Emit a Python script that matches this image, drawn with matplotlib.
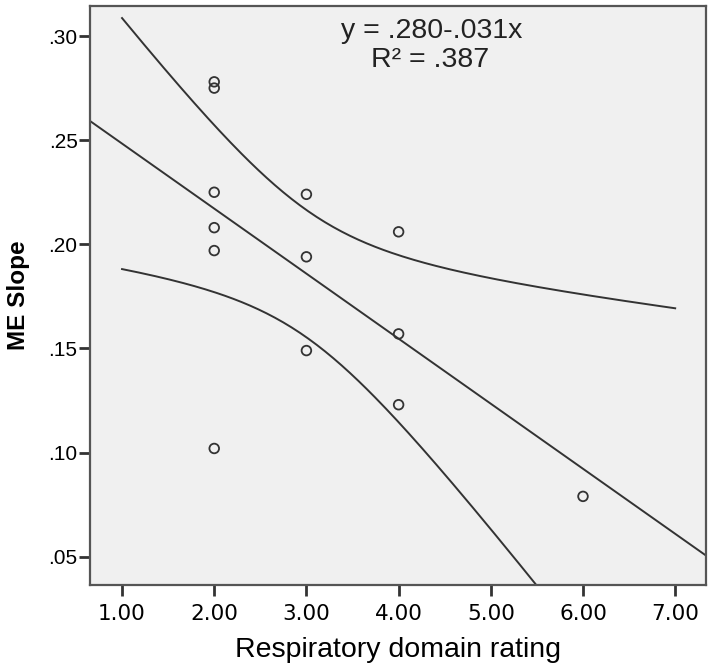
import numpy as np
import matplotlib
matplotlib.use("Agg")
import matplotlib.pyplot as plt

# data
rating = [2, 2, 2, 2, 2, 2, 3, 3, 3, 4, 4, 4, 6]
me_slope = [.278, .275, .225, .208, .197, .102, .224, .194, .149, .206, .157, .123, .079]
fit_text = ["y = .280-.031x", "R² = .387"]

plt.rcParams['font.family'] = ['Liberation Sans', 'DejaVu Sans']

x = np.array(rating, dtype=float)
y = np.array(me_slope)
n = len(x)

# least squares fit + 95% CI for the mean
slope, intercept = np.polyfit(x, y, 1)
resid = y - (intercept + slope * x)
s = np.sqrt(np.sum(resid ** 2) / (n - 2))
sxx = np.sum((x - x.mean()) ** 2)
t_crit = 2.201  # t(0.975, df=11)

xs = np.linspace(1, 7, 200)
yhat = intercept + slope * xs
half = t_crit * s * np.sqrt(1 / n + (xs - x.mean()) ** 2 / sxx)

fig = plt.figure(figsize=(7.09, 6.69), dpi=100)
ax = fig.add_axes([0.127, 0.126, 0.869, 0.865])
ax.set_facecolor('#f0f0f0')

xlim = (0.653, 7.336)
xl = np.array(xlim)
line_kw = dict(color='#333333', lw=1.4)
ax.plot(xl, intercept + slope * xl, **line_kw)
ax.plot(xs, yhat + half, **line_kw)
ax.plot(xs, yhat - half, **line_kw)

ax.scatter(x, y, s=48, facecolors='none', edgecolors='#333333', linewidths=1.3, zorder=3)

ax.set_xlim(*xlim)
ax.set_ylim(0.0366, 0.3144)

ax.set_xticks(range(1, 8))
ax.set_xticklabels([f"{v:.2f}" for v in range(1, 8)], family='DejaVu Sans', fontsize=15.5)
yt = [.05, .10, .15, .20, .25, .30]
ax.set_yticks(yt)
ax.set_yticklabels([f"{v:.2f}"[1:] for v in yt], fontsize=15)

ax.tick_params(axis='both', direction='out', length=8, width=2, color='#333333')
ax.tick_params(axis='x', pad=6)
ax.tick_params(axis='y', pad=1)
for side in ['top', 'right', 'bottom', 'left']:
    ax.spines[side].set_color('#555555')
    ax.spines[side].set_linewidth(1.6)

ax.set_xlabel('Respiratory domain rating', fontsize=20.5, labelpad=9)
ax.set_ylabel('ME Slope', fontsize=17.5, fontweight='bold', labelpad=13)

ax.text(0.555, 0.944, fit_text[0], transform=ax.transAxes, ha='center', va='baseline', fontsize=20.5, color='#222222')
ax.text(0.552, 0.894, fit_text[1], transform=ax.transAxes, ha='center', va='baseline', fontsize=20.5, color='#222222')

fig.savefig('out.png', dpi=100)
